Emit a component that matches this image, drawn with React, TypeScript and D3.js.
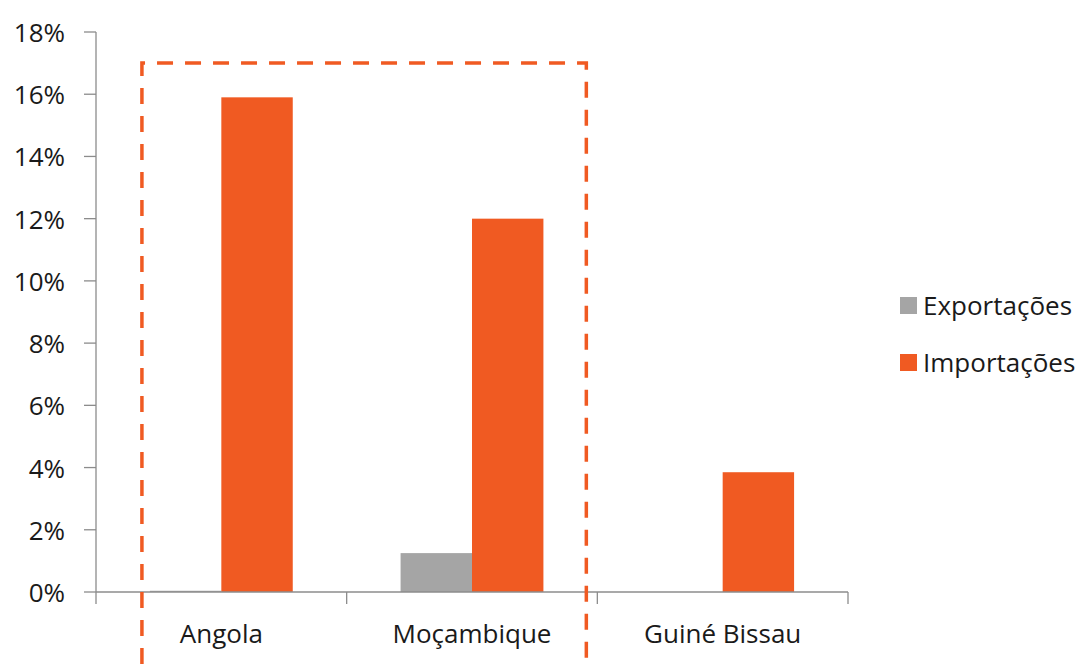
import React from "react";
import * as d3 from "d3";

const categories = ["Angola", "Moçambique", "Guiné Bissau"];
const seriesNames = ["Exportações", "Importações"];
const exportacoes = [0.0004, 0.0125, 0];
const importacoes = [0.159, 0.12, 0.0385];
const yTicks = [0, 0.02, 0.04, 0.06, 0.08, 0.1, 0.12, 0.14, 0.16, 0.18];
const colors = ["#A5A5A5", "#F05A22"];

const W = 1083;
const H = 664;
const margin = { left: 96, right: 235, top: 32, bottom: 72 };

export default function App() {
  const x0 = d3
    .scaleBand<string>()
    .domain(categories)
    .range([margin.left, W - margin.right])
    .paddingInner(0)
    .paddingOuter(0);
  const x1 = d3
    .scaleBand<string>()
    .domain(seriesNames)
    .range([0, x0.bandwidth()])
    .paddingOuter(0.755)
    .paddingInner(0);
  const y = d3.scaleLinear().domain([0, 0.18]).range([H - margin.bottom, margin.top]);
  const fmt = d3.format(".0%");
  const values = [exportacoes, importacoes];
  const font = "'Open Sans', 'Noto Sans', sans-serif";
  const axisColor = "#8C8C8C";
  const y0 = y(0);
  const fs = 26;

  const rectLeft = (x0("Angola") as number) + (x1("Exportações") as number) - 8;
  const rectRight = (x0("Moçambique") as number) + x0.bandwidth() - 11;
  const rectTop = y(0.17);

  return (
    <svg
      width={W}
      height={H}
      style={{ position: "absolute", left: 0, top: 0, background: "#fff" }}
    >
      {/* y axis */}
      <line x1={margin.left} x2={margin.left} y1={y(0.18)} y2={y0} stroke={axisColor} strokeWidth={1.3} />
      {yTicks.map((t) => (
        <g key={t}>
          <line x1={margin.left - 12} x2={margin.left} y1={y(t)} y2={y(t)} stroke={axisColor} strokeWidth={1.3} />
          <text
            x={margin.left - 31}
            y={y(t)}
            textAnchor="end"
            dominantBaseline="central"
            fontFamily={font}
            fontSize={fs}
            fill="#1a1a1a"
          >
            {fmt(t)}
          </text>
        </g>
      ))}
      {/* bars */}
      {categories.map((c, ci) =>
        seriesNames.map((s, si) => {
          const v = values[si][ci];
          if (v <= 0) return null;
          const top = y(v);
          return (
            <rect
              key={c + s}
              x={(x0(c) as number) + (x1(s) as number)}
              y={top}
              width={x1.bandwidth()}
              height={Math.max(y0 - top, 0)}
              fill={colors[si]}
            />
          );
        })
      )}
      {/* x axis */}
      <line x1={margin.left} x2={W - margin.right} y1={y0} y2={y0} stroke={axisColor} strokeWidth={1.3} />
      {[...categories.map((c) => x0(c) as number), W - margin.right].map((xv, i) => (
        <line key={i} x1={xv} x2={xv} y1={y0} y2={y0 + 12} stroke={axisColor} strokeWidth={1.3} />
      ))}
      {categories.map((c) => (
        <text
          key={c}
          x={(x0(c) as number) + x0.bandwidth() / 2}
          y={y0 + 41}
          textAnchor="middle"
          dominantBaseline="central"
          fontFamily={font}
          fontSize={fs}
          fill="#1a1a1a"
        >
          {c}
        </text>
      ))}
      {/* dashed highlight */}
      <path
        d={`M${rectLeft},${H} V${rectTop} H${rectRight} V${H}`}
        fill="none"
        stroke="#F05A22"
        strokeWidth={3.5}
        strokeDasharray="16 12"
      />
      {/* legend */}
      {seriesNames.map((s, i) => (
        <g key={s} transform={`translate(900, ${305 + i * 57})`}>
          <rect x={0} y={-8} width={17} height={17} fill={colors[i]} />
          <text x={23} y={0} dominantBaseline="central" fontFamily={font} fontSize={fs} fill="#1a1a1a">
            {s}
          </text>
        </g>
      ))}
    </svg>
  );
}
